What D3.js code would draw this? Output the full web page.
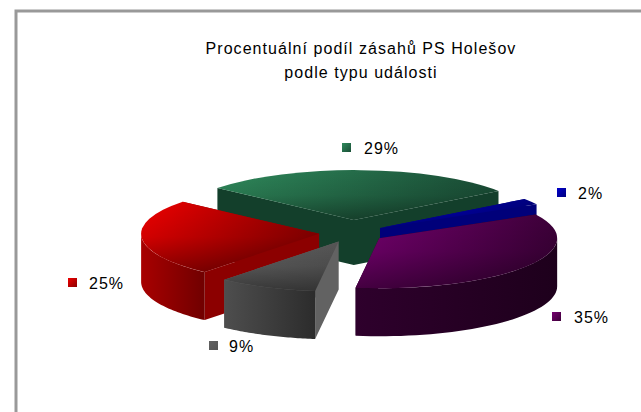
<!DOCTYPE html>
<html>
<head>
<meta charset="utf-8">
<script src="https://cdn.jsdelivr.net/npm/d3@7"></script>
<style>
    html, body { margin: 0; padding: 0; background: #fff; overflow: hidden; }
    text { font-family: "Liberation Sans", Arial, sans-serif; fill: #000; }
</style>
</head>
<body>
<div id="main"></div>
<script>
// chart data //
const titleLines = ['Procentuální podíl zásahů PS Holešov', 'podle typu události'];
const percents = [29, 2, 35, 9, 25];
const percentLabels = ['29%', '2%', '35%', '9%', '25%'];

// one per slice: [top light, top dark, wall left, wall right, radial face] //
const sliceColors = [
    ['#2f8a5c', '#1a4e36', '#133f2b', '#133f2b', '#133f2b'],
    ['#0000cc', '#00007e', '#00007a', '#00007a', '#00007a'],
    ['#760070', '#3c0038', '#2e002c', '#1e001c', '#240022'],
    ['#626262', '#555555', '#4e4e4e', '#2c2c2c', '#626262'],
    ['#f00000', '#8a0000', '#a80000', '#700000', '#8c0000']
];

// specs of svg frame //
const w = 641;
const h = 412;
const cx = 352;
const cy = 233;
const rx = 178;
const ry = 50;

// how far each slice is pulled out and how thick it looks //
const explodes = [46, 33, 33, 33, 33];
const depths = [45, 48, 48, 48, 48];

const svg = d3.select('#main')
    .append('svg')
    .attr('width', w)
    .attr('height', h)
    .style('display', 'block');

const defs = svg.append('defs');

// grey frame, open to the right and bottom //
svg.append('path')
    .attr('d', d3.line()([[16, h], [16, 11], [w, 11]]))
    .attr('fill', 'none')
    .attr('stroke', '#999')
    .attr('stroke-width', 3);

// title //
svg.selectAll('.title')
    .data(titleLines)
    .enter()
    .append('text')
    .attr('class', 'title')
    .attr('x', 361)
    .attr('y', (d, i) => 54 + i * 24)
    .attr('text-anchor', 'middle')
    .style('font-size', '16px')
    .style('letter-spacing', '1.05px')
    .text(d => d);

// angles: d3 measures from 12 o'clock, pie starts at the left edge of the green slice //
const slices = d3.pie()
    .sort(null)
    .startAngle(-50 * Math.PI / 180)
    .endAngle(310 * Math.PI / 180)(percents);

slices.forEach((d, i) => {
    d.index = i;
    d.mid = (d.startAngle + d.endAngle) / 2;
    // every slice is pulled out along its own middle angle
    d.cx = cx + explodes[i] * Math.sin(d.mid);
    d.cy = cy - explodes[i] * Math.cos(d.mid) * ry / rx;
});

// point on the tilted rim of a slice
const rim = (d, a, down) => [
    d.cx + rx * Math.sin(a),
    d.cy - ry * Math.cos(a) + (down || 0)
];

const gradient = (id, colors, x2, y2, opacity) => {
    const g = defs.append('linearGradient')
        .attr('id', id)
        .attr('x1', 0).attr('y1', 0)
        .attr('x2', x2).attr('y2', y2);
    colors.forEach((c, k) => {
        g.append('stop')
            .attr('offset', k / (colors.length - 1))
            .attr('stop-color', c)
            .attr('stop-opacity', opacity ? opacity[k] : 1);
    });
};

slices.forEach(d => {
    const c = sliceColors[d.index];
    gradient('top' + d.index, [c[0], c[1]], 1, 0);
    gradient('wall' + d.index, [c[2], c[3]], 1, 0);
    gradient('sw' + d.index, [c[0], c[1]], 1, 1);
});
gradient('shade', ['#000', '#000', '#000'], 0, 1, [0, 0.12, 0.42]);

const topArc = d3.arc().innerRadius(0).outerRadius(rx);
const line = d3.line();

// back to front, grey has to sit on the red one //
const drawOrder = [0, 1, 4, 2, 3];

drawOrder.forEach(i => {
    const d = slices[i];
    const g = svg.append('g');
    const c = sliceColors[i];
    const depth = depths[i];

    // the two flat faces that go to the centre, one path so there is no seam
    const flat = a => line([[d.cx, d.cy], rim(d, a), rim(d, a, depth), [d.cx, d.cy + depth]]) + 'Z';
    g.append('path')
        .attr('d', flat(d.startAngle) + flat(d.endAngle))
        .attr('fill', c[4]);

    // outer wall, only the part that faces us (90 to 270 degrees in d3 angles)
    const from = Math.max(d.startAngle, Math.PI / 2);
    const to = Math.min(d.endAngle, 3 * Math.PI / 2);
    if (to > from) {
        const steps = d3.range(0, 41).map(k => from + (to - from) * k / 40);
        const upper = steps.map(a => rim(d, a));
        const lower = steps.slice().reverse().map(a => rim(d, a, depth));
        g.append('path')
            .attr('d', line(upper.concat(lower)) + 'Z')
            .attr('fill', 'url(#wall' + i + ')');
    }

    // top face, squashed circle
    const face = g.append('g')
        .attr('transform', 'translate(' + d.cx + ',' + d.cy + ') scale(1,' + (ry / rx) + ')');
    face.append('path')
        .attr('d', topArc(d))
        .attr('fill', 'url(#top' + i + ')');
    face.append('path')
        .attr('d', topArc(d))
        .attr('fill', 'url(#shade)');
});

// legend keys with their percent labels //
const keyX = [342, 557, 552, 209, 68];
const keyY = [143, 188, 312, 341, 278];
const textX = [364, 578, 574, 229, 89];

svg.selectAll('.key')
    .data(slices)
    .enter()
    .append('rect')
    .attr('class', 'key')
    .attr('x', d => keyX[d.index])
    .attr('y', d => keyY[d.index])
    .attr('width', 9)
    .attr('height', 9)
    .attr('fill', d => 'url(#sw' + d.index + ')');

svg.selectAll('.pct')
    .data(slices)
    .enter()
    .append('text')
    .attr('class', 'pct')
    .attr('x', d => textX[d.index])
    .attr('y', d => keyY[d.index] + 11)
    .style('font-size', '16px')
    .style('letter-spacing', '1px')
    .text(d => percentLabels[d.index]);
</script>
</body>
</html>
